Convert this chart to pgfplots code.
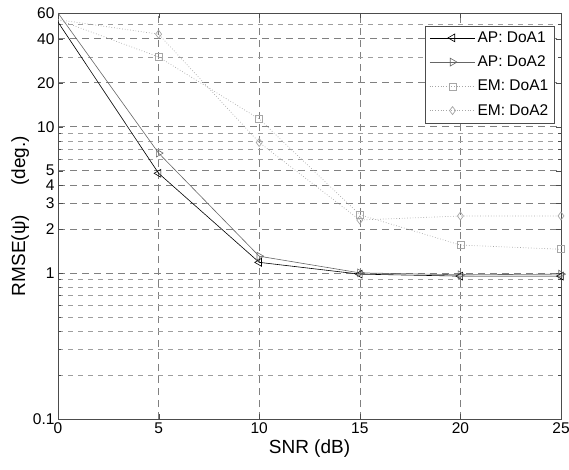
\documentclass[border=0pt]{standalone}
\usepackage{fontspec}
\setmainfont{Liberation Sans}
\usepackage{pgfplots}
\pgfplotsset{compat=1.18}
\begin{document}
\begin{tikzpicture}
\path[use as bounding box] (-58pt,-51pt) rectangle (511pt,419pt);
\begin{axis}[
  scale only axis,
  width=503pt, height=406pt,
  ymode=log,
  xmin=0, xmax=25, ymin=0.1, ymax=60,
  xtick={0,5,10,15,20,25},
  ytick={0.1,1,2,3,4,5,10,20,40,60},
  yticklabels={0.1,1,2,3,4,5,10,20,40,60},
  minor ytick={0.2,0.3,0.4,0.5,0.6,0.7,0.8,0.9,6,7,8,9,30,50},
  log basis y=10,
  tick align=inside,
  major tick length=5pt, minor tick length=3pt,
  grid=both,
  xminorgrids=false,
  major grid style={black!50, dash pattern=on 7pt off 5pt, line width=0.6pt},
  minor grid style={black!38, dash pattern=on 5pt off 5pt, line width=0.5pt},
  axis line style={black!70, line width=0.6pt},
  tick style={black!70},
  /pgf/number format/assume math mode=true,
  ticklabel style={font=\fontsize{15.5}{17}\selectfont},
  xlabel={SNR (dB)},
  ylabel={RMSE(ψ)\quad\ \ (deg.)},
  label style={font=\fontsize{19}{22}\selectfont},
  xlabel style={yshift=1pt},
  ylabel style={yshift=-3pt},
  legend style={at={(0.987,0.969)}, anchor=north east, draw=black!70,
    font=\fontsize{15.5}{18}\selectfont, row sep=8pt, inner sep=4pt, fill=white},
  legend cell align=left,
  legend image code/.code={
    \draw[mark repeat=2,mark phase=2,mark indices={},#1] plot coordinates {(0cm,0cm) (0.8cm,0cm) (1.6cm,0cm)};},
]
\addplot[black, line width=0.6pt, mark=triangle, mark indices={2,3,4,5,6}, mark options={rotate=90, solid, fill=white}, mark size=4.5pt]
  coordinates {(0,52) (5,4.8) (10,1.18) (15,0.98) (20,0.95) (25,0.95)};
\addlegendentry{AP: DoA1}
\addplot[black!60, line width=0.6pt, mark=triangle, mark indices={2,3,4,5,6}, mark options={rotate=-90, solid, fill=white}, mark size=4.5pt]
  coordinates {(0,60) (5,6.6) (10,1.3) (15,1.0) (20,0.97) (25,0.98)};
\addlegendentry{AP: DoA2}
\addplot[black!35, line width=0.7pt, dotted, mark=square, mark indices={2,3,4,5,6}, mark options={solid, fill=white}, mark size=3.5pt]
  coordinates {(0,54) (5,30) (10,11.3) (15,2.5) (20,1.55) (25,1.45)};
\addlegendentry{EM: DoA1}
\addplot[black!35, line width=0.7pt, dotted, mark=diamond, mark indices={2,3,4,5,6}, mark options={solid, fill=white}, mark size=4pt]
  coordinates {(0,54) (5,43) (10,7.8) (15,2.3) (20,2.45) (25,2.45)};
\addlegendentry{EM: DoA2}
\end{axis}
\end{tikzpicture}
\end{document}
